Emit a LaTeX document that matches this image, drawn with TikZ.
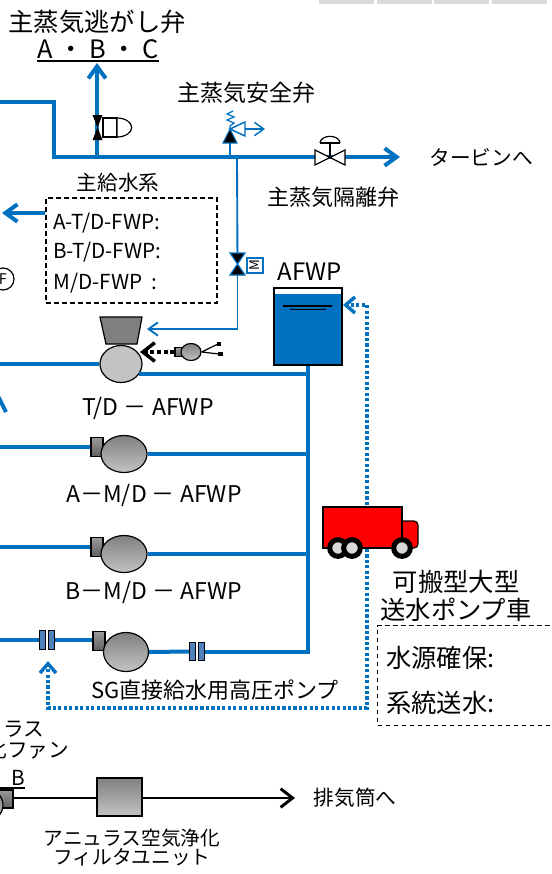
\documentclass[tikz,border=0pt]{standalone}
\usepackage{fontspec}
\setmainfont{Noto Sans CJK JP}
\usetikzlibrary{arrows.meta,shapes.geometric}

\definecolor{pipeblue}{RGB}{0,112,192}
\definecolor{darkgrey}{RGB}{128,128,128}
\definecolor{lightgrey}{RGB}{195,195,195}
\definecolor{barblue}{RGB}{79,129,189}
\definecolor{cellgrey}{RGB}{217,217,217}

\def\unit{0.75pt}

\begin{document}
\begin{tikzpicture}[x=\unit,y=-\unit,>={Straight Barb[length=9pt,width=13pt]}]
  \tikzstyle{pipe}=[draw=pipeblue,line width=3pt]
  \tikzstyle{thinpipe}=[draw=pipeblue,line width=1.4pt]
  \tikzstyle{dotpipe}=[draw=pipeblue,line width=2.6pt,dash pattern=on 2.4pt off 1.7pt]
  \tikzstyle{duct}=[draw=black,line width=2.2pt]
  \tikzstyle{smalltip}=[-{Straight Barb[length=7pt,width=10pt]}]
  \tikzstyle{dottip}=[-{Straight Barb[length=7pt,width=12pt]}]
  \tikzstyle{blacktip}=[-{Straight Barb[length=9pt,width=14pt]}]
  \tikzstyle{dashbox}=[draw=black,line width=0.9pt,dash pattern=on 3.5pt off 2.5pt,inner sep=0pt]
  \tikzstyle{pump}=[ellipse,draw=black,line width=0.9pt,top color=darkgrey,bottom color=lightgrey,inner sep=0pt]
  \tikzstyle{turbine}=[ellipse,draw=black,line width=0.9pt,fill=lightgrey,inner sep=0pt]
  \tikzstyle{casing}=[rectangle,draw=black,line width=0.9pt,top color=darkgrey!80!white,bottom color=darkgrey!75!black,inner sep=0pt]
  \tikzstyle{orifice}=[rectangle,minimum width=15*\unit,minimum height=18*\unit,inner sep=0pt]
  \tikzstyle{bar}=[draw=black,line width=0.8pt,fill=barblue]
  \tikzstyle{wheel}=[circle,draw=black,line width=3.8pt,fill=cellgrey,minimum size=12.5pt,inner sep=0pt]
  \tikzstyle{txtL}=[inner sep=0pt,font=\fontsize{19}{21}\selectfont]
  \tikzstyle{txtM}=[inner sep=0pt,font=\fontsize{17.25}{20}\selectfont]
  \tikzstyle{txtS}=[inner sep=0pt,font=\fontsize{15.5}{18}\selectfont]
  \tikzstyle{txtXS}=[inner sep=0pt,font=\fontsize{14.75}{14.25}\selectfont]

  \useasboundingbox (0,0) rectangle (551,874);
  \clip (0,0) rectangle (551,874);
  \coordinate (lside) at (0,0);

  %%% TABLE CELLS ABOVE
  \foreach \x in {319,377,434,492}
    \fill[cellgrey] (\x,0) rectangle (\x+55,4);

  %%% MAIN STEAM LINE
  \coordinate (msin) at (0,102);
  \coordinate (msturn) at (54,102);
  \coordinate (msout) at (400,157);
  \coordinate (rvtee) at (97,157);
  \coordinate (rvout) at (97,63);
  \coordinate (svtee) at (230,157);
  \coordinate (movtee) at (237,159);
  \draw[pipe,->] (msin) -- (msturn) |- (msout);
  \node[txtS] (toturbine) at (481,157) {タービンへ};

  %%% RELIEF VALVES
  \node[txtL] (rvname) at (97,22) {主蒸気逃がし弁};
  \node[txtL] (rvabc) at (98,49) {A ・ B ・ C};
  \draw[line width=1.1pt] ([yshift=-1.5pt]rvabc.south west) -- ([yshift=-1.5pt]rvabc.south east);
  \draw[pipe,->] (rvtee) -- (rvout);
  \fill (92.5,115) -- (102.5,115) -- (92.5,140) -- (102.5,140) -- cycle;
  \draw[line width=0.9pt,fill=white] (103,118) rectangle (117,137);
  \draw[line width=0.9pt,fill=white] (117,118) arc[start angle=90,end angle=-90,x radius=11pt,y radius=7.125pt] -- cycle;

  %%% SAFETY VALVE
  \node[txtM] (svname) at (246,93) {主蒸気安全弁};
  \coordinate (sv) at (230,129);
  \draw[thinpipe] (svtee) -- (sv);
  \filldraw[fill=black,draw=pipeblue,line width=0.8pt] (223,143) -- (237,143) -- (sv) -- cycle;
  \draw[thinpipe,line width=0.9pt] (sv) -- (230,126) -- (234,123) -- (227,120) -- (234,117) -- (227,114) -- (233,111);
  \draw[thinpipe,line width=1.1pt,fill=white] (sv) -- (245,122) -- (245,136) -- cycle;
  \draw[thinpipe,line width=1.1pt,smalltip] (245,129) -- (265,129);

  %%% ISOLATION VALVE
  \coordinate (isv) at (330,157);
  \draw[line width=0.9pt,fill=white] (315,150) -- (315,165) -- (345,150) -- (345,165) -- cycle;
  \draw[line width=0.9pt] (isv) -- (330,143) (320,143) -- (340,143);
  \draw[line width=0.9pt] (320,143) arc[start angle=180,end angle=0,x radius=7.5pt,y radius=5pt];
  \node[txtM,font=\fontsize{16.5}{18}\selectfont] (isvname) at (333,197) {主蒸気隔離弁};

  %%% MAIN FEEDWATER
  \node[txtS] (fwname) at (118,183) {主給水系};
  \node[dashbox,minimum width=171*\unit,minimum height=105*\unit] (fw) at (131.5,250.5) {};
  \node[txtS,anchor=west] (fwa) at (53,223) {A-T/D-FWP:};
  \node[txtS,anchor=west] (fwb) at (53,252) {B-T/D-FWP:};
  \node[txtS,anchor=west] (fwm) at (53,283) {M/D-FWP\ \ :};
  \coordinate (fwout) at (2,213);
  \draw[pipe,->] (fw.west |- fwout) -- (fwout);
  \node[circle,draw,line width=0.9pt,minimum size=22*\unit,inner sep=0pt,font=\fontsize{11}{11}\selectfont] (fwpump) at (3,279) {F};

  %%% MOTOR VALVE TO TURBINE
  \coordinate (mov) at (237.5,264);
  \coordinate (tdin) at (147,329);
  \draw[thinpipe] (movtee) -- (mov);
  \draw[thinpipe,smalltip] (mov) |- (tdin);
  \filldraw[fill=black,draw=pipeblue,line width=0.9pt] (230,253) -- (245,253) -- (230,275) -- (245,275) -- cycle;
  \node[draw=pipeblue,fill=white,line width=0.9pt,minimum width=15*\unit,minimum height=16*\unit,inner sep=0pt,rotate=90,font=\fontsize{10}{10}\selectfont] (movm) at (255,265.5) {M};

  %%% TANK
  \node[draw=black,line width=0.9pt,fill=pipeblue,minimum width=68*\unit,minimum height=77*\unit,inner sep=0pt,
        path picture={\fill[white] (path picture bounding box.north west) rectangle ([yshift=-4.5pt]path picture bounding box.north east);}] (tank) at (308,326.5) {};
  \draw[line width=1.6pt] (283,306) -- (332,306);
  \draw[line width=1.1pt] (290,309.5) -- (326,309.5);
  \node[txtM,font=\fontsize{18}{20}\selectfont] (tankname) at (310,272) {AFWP};

  %%% T/D AFWP
  \draw[line width=0.9pt,fill=darkgrey] (100,317) -- (142,317) -- (137,344) -- (106,344) -- cycle;
  \node[turbine,minimum width=42*\unit,minimum height=37*\unit] (tdp) at (121,364) {};
  \draw[pipe] (tdp.west) -- (tdp.west -| lside);
  \draw[pipe] (tdp.-30) -- (tdp.-30 -| tank.south);
  \node[txtM] (tdname) at (148,408) {T/D － AFWP};
  \draw[pipe] (-8,412) -- (-1,398) -- (6,412);

  % drive unit feeding the turbine
  \coordinate (stin) at (140,352);
  \node[casing,minimum width=8*\unit,minimum height=9*\unit] (st-c) at (179,352) {};
  \node[pump,minimum width=20*\unit,minimum height=17*\unit] (st) at (191,352) {};
  \draw[duct,line width=2.6pt,dash pattern=on 3pt off 2pt,blacktip] (st-c.west) -- (stin);
  \draw[line width=0.9pt] (st.east) -- (218,344) (st.east) -- (219,354);
  \fill (216.5,342) rectangle (221,346);
  \fill (218,352) rectangle (223,356);

  %%% M/D AFWP
  \foreach \name/\y in {pa/454,pb/554} {
    \node[casing,minimum width=12*\unit,minimum height=19*\unit] (\name-c) at (97,\y-7) {};
    \node[pump,minimum width=46*\unit,minimum height=37*\unit] (\name) at (124,\y) {};
    \draw[pipe] (\name-c.west) -- (\name-c.west -| lside);
    \draw[pipe] (\name.east) -- (\name.east -| tank.south);
  }
  \node[txtM] (paname) at (154,495) {A－M/D － AFWP};
  \node[txtM] (pbname) at (154,592) {B－M/D － AFWP};

  %%% SG DIRECT FEED PUMP
  \node[casing,minimum width=12*\unit,minimum height=19*\unit] (psg-c) at (99,641) {};
  \node[pump,minimum width=45*\unit,minimum height=39*\unit] (psg) at (126,652) {};
  \node[orifice] (or1) at (47,640) {};
  \node[orifice] (or2) at (197,651.5) {};
  \draw[pipe] (lside |- or1.west) -- (or1.west);
  \draw[pipe] (or1.east) -- (or1.east -| psg-c.west);
  \draw[pipe] (psg.east) -- (or2.west);
  \draw[pipe] (or2.east) -- (tank.south |- or2.east) -- (tank.south);
  \foreach \o in {or1,or2} {
    \draw[bar] (\o.south west) rectangle ([xshift=-0.8pt]\o.north);
    \draw[bar] ([xshift=0.8pt]\o.south) rectangle (\o.north east);
  }
  \node[txtM,font=\fontsize{16.5}{18}\selectfont] (sgname) at (215,690) {SG直接給水用高圧ポンプ};

  %%% PORTABLE PUMP TRUCK
  \coordinate (hose) at (367,527);
  \coordinate (tankin) at (343,305);
  \coordinate (sgturn) at (48,708);
  \coordinate (sgin) at (48,661);
  \draw[dotpipe,dottip] (hose) |- (tankin);
  \draw[dotpipe,dottip] (hose) |- (sgturn) -- (sgin);
  \draw[line width=0.9pt,fill=red,rounded corners=3pt] (396,521) rectangle (418,548);
  \node[draw=black,line width=0.9pt,fill=red,minimum width=79*\unit,minimum height=41*\unit,inner sep=0pt] (truck) at (362.5,527.5) {};
  \foreach \x in {338,352,402}
    \node[wheel] (wheel\x) at (\x,548) {};
  \node[txtL,align=center] (truckname) at (456,596) {可搬型大型\\送水ポンプ車};
  \node[dashbox,minimum width=200*\unit,minimum height=100*\unit,anchor=north west] (truckbox) at (377,625) {};
  \node[txtL,anchor=west] (water) at (386,658) {水源確保:};
  \node[txtL,anchor=west] (feed) at (386,703) {系統送水:};

  %%% ANNULUS AIR CLEANUP
  \node[txtS] (fanname1) at (-7,729) {アニュラス};
  \node[txtS] (fanname2) at (-3,750) {空気浄化ファン};
  \node[txtS] (fanab) at (-3,778) {A ・ B};
  \draw[line width=1.1pt] ([yshift=-1.5pt]fanab.south west) -- ([yshift=-1.5pt]fanab.south east);
  \node[casing,minimum width=18*\unit,minimum height=18*\unit] (fan-c) at (4,799) {};
  \node[pump,minimum width=42*\unit,minimum height=36*\unit] (fan) at (-18,805) {};
  \node[draw=black,line width=2.2pt,top color=darkgrey,bottom color=lightgrey,minimum width=45*\unit,minimum height=38*\unit,inner sep=0pt] (filter) at (119.5,797) {};
  \coordinate (stack) at (295,798);
  \draw[duct] (fan-c.east |- stack) -- (filter.west |- stack);
  \draw[duct,blacktip] (filter.east |- stack) -- (stack);
  \node[txtS] (stackname) at (355,798) {排気筒へ};
  \node[txtXS,align=center] (filtername) at (132,847.5) {アニュラス空気浄化\\フィルタユニット};

\end{tikzpicture}
\end{document}
